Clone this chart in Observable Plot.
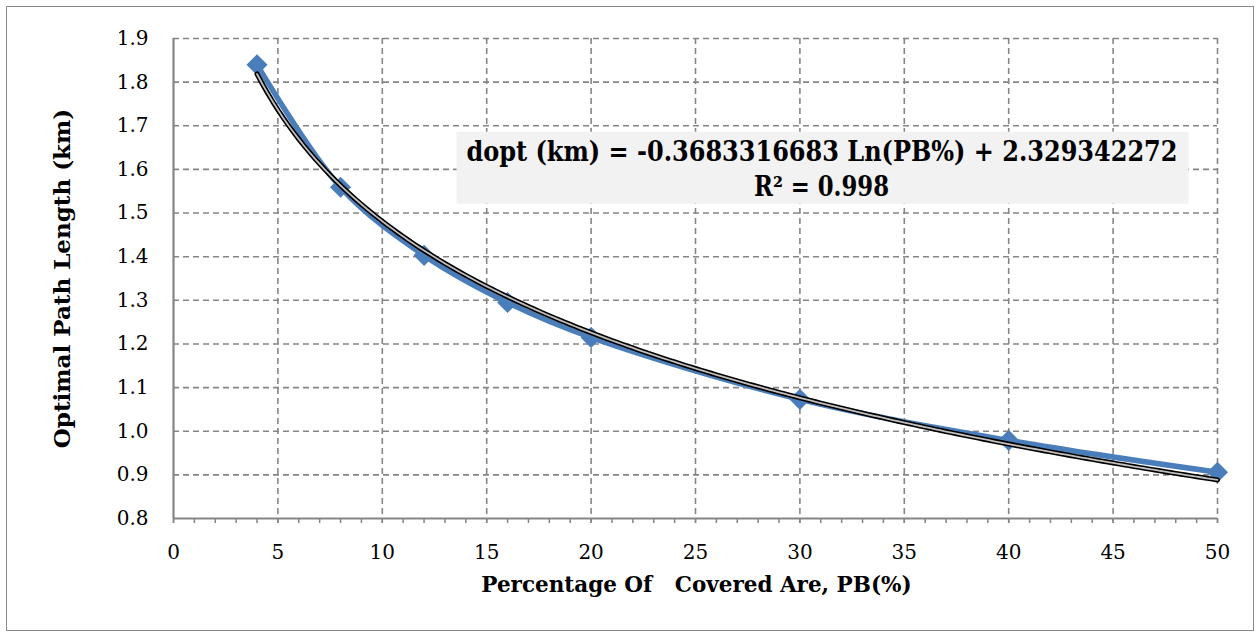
<!DOCTYPE html>
<html><head><meta charset="utf-8">
<script src="https://cdn.jsdelivr.net/npm/d3@7"></script>
<script src="https://cdn.jsdelivr.net/npm/@observablehq/plot@0.6"></script>
<style>
body{margin:0;background:#fff;}
#chart{position:relative;width:1259px;height:635px;}
#chart svg{display:block;position:absolute;left:0;top:0}
#border{position:absolute;left:6px;top:6px;width:1248px;height:625px;border:1.5px solid #8a8a8a;box-sizing:border-box;}
</style></head><body>
<div id="chart"><div id="border"></div></div>
<script>
// Data
const pb = [4, 8, 12, 16, 20, 30, 40, 50];
const dopt = [1.840, 1.559, 1.403, 1.295, 1.215, 1.073, 0.979, 0.906];
const xTicks = [0, 5, 10, 15, 20, 25, 30, 35, 40, 45, 50];
const xMinorTicks = d3.range(0, 51, 1);
const yTicks = [0.8, 0.9, 1.0, 1.1, 1.2, 1.3, 1.4, 1.5, 1.6, 1.7, 1.8, 1.9];
const trendCoef = [-0.3683316683, 2.329342272]; // dopt = a*ln(PB) + b
const equationLines = ["dopt (km) = -0.3683316683 Ln(PB%) + 2.329342272", "R\u00B2 = 0.998"];
const xLabel = "Percentage Of \u00A0 Covered Are, PB(%)";
const yLabel = "Optimal Path Length (km)";

const series = pb.map((x, i) => ({x, y: dopt[i]}));
const trend = d3.range(pb[0], pb[pb.length - 1] + 0.001, 0.25).map(x => ({x, y: trendCoef[0] * Math.log(x) + trendCoef[1]}));

const blue = "#4a7ebb";
const grid = "#858585";
const eqFont = "'DejaVu Serif', serif";

const chart = Plot.plot({
  width: 1259,
  height: 635,
  marginLeft: 173,
  marginRight: 42,
  marginTop: 38,
  marginBottom: 117,
  style: {fontFamily: "'DejaVu Serif', serif", fontSize: "20px", color: "#000", background: "transparent"},
  x: {domain: [0, 50], label: null},
  y: {domain: [0.8, 1.9], label: null},
  marks: [
    Plot.gridX(xTicks.slice(1), {stroke: grid, strokeOpacity: 1, strokeWidth: 1.6, strokeDasharray: "6,4"}),
    Plot.gridY(yTicks.slice(1), {stroke: grid, strokeOpacity: 1, strokeWidth: 1.6, strokeDasharray: "6,4"}),
    Plot.axisX(xMinorTicks, {tickSize: 5, text: null, stroke: grid, strokeWidth: 1.5, label: null}),
    Plot.axisX(xTicks, {tickSize: 5, tickPadding: 21, stroke: grid, strokeWidth: 1.5, fill: "#000", label: null, fontSize: 20}),
    Plot.axisY(yTicks, {tickSize: 0, tickPadding: 25, tickFormat: d3.format(".1f"), label: null, fill: "#000", fontSize: 20}),
    Plot.ruleY([0.8], {stroke: grid, strokeWidth: 2.2}),
    Plot.ruleX([0], {stroke: grid, strokeWidth: 2.2}),
    Plot.line(series, {x: "x", y: "y", curve: "catmull-rom", stroke: blue, strokeWidth: 5.5}),
    Plot.dot(series, {x: "x", y: "y", symbol: "diamond2", r: 9.5, fill: blue, stroke: "none"}),
    Plot.line(trend, {x: "x", y: "y", stroke: "#000", strokeWidth: 5}),
    Plot.line(trend, {x: "x", y: "y", stroke: "#fff", strokeWidth: 1.8, strokeOpacity: 0.75}),
    Plot.text([equationLines[0]], {frameAnchor: "top", dx: 126.5, dy: 103, fontFamily: eqFont, fontWeight: "bold", fontSize: 27, fill: "#000"}),
    Plot.text([equationLines[1]], {frameAnchor: "top", dx: 126, dy: 138, fontFamily: eqFont, fontWeight: "bold", fontSize: 27, fill: "#000"}),
    Plot.text([xLabel], {frameAnchor: "bottom", dx: 1, dy: 73, fontWeight: "bold", fontSize: 21.5, fill: "#000"}),
    Plot.text([yLabel], {frameAnchor: "left", dx: -111, dy: 0, rotate: -90, textAnchor: "middle", fontWeight: "bold", fontSize: 23, fill: "#000"})
  ]
});
document.getElementById("chart").appendChild(chart);

// Fit equation texts to the reference width and put a light box behind them
const texts = Array.from(chart.querySelectorAll("text")).filter(t => equationLines.includes(t.textContent));
const widths = {[equationLines[0]]: 711, [equationLines[1]]: 135};
texts.forEach(t => {
  t.setAttribute("textLength", widths[t.textContent]);
  t.setAttribute("lengthAdjust", "spacingAndGlyphs");
});
if (texts.length) {
  const sv = chart.getBoundingClientRect();
  let x0 = Infinity, y0 = Infinity, x1 = -Infinity, y1 = -Infinity;
  texts.forEach(t => {
    const b = t.getBoundingClientRect();
    x0 = Math.min(x0, b.left - sv.left); y0 = Math.min(y0, b.top - sv.top);
    x1 = Math.max(x1, b.right - sv.left); y1 = Math.max(y1, b.bottom - sv.top);
  });
  const g = texts[0].closest("g") || texts[0].parentNode;
  const r = document.createElementNS("http://www.w3.org/2000/svg", "rect");
  r.setAttribute("x", x0 - 10); r.setAttribute("y", y0 - 4);
  r.setAttribute("width", x1 - x0 + 21); r.setAttribute("height", y1 - y0 + 6);
  r.setAttribute("fill", "#f2f2f2");
  g.parentNode.insertBefore(r, g);
}
</script>
</body></html>
